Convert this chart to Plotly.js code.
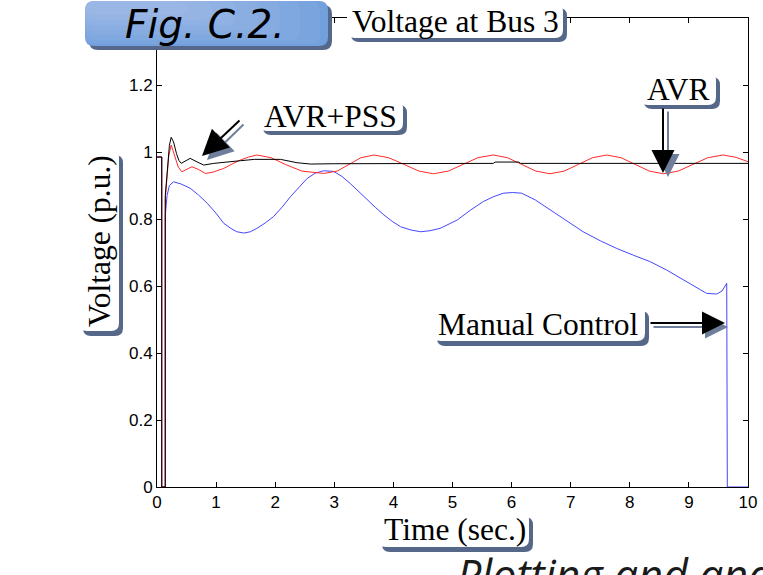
<!DOCTYPE html>
<html>
<head>
<meta charset="utf-8">
<script src="https://cdn.plot.ly/plotly-3.0.1.min.js"></script>
<style>html,body{margin:0;padding:0;background:#fff;}#chart{width:763px;height:575px;}</style>
</head>
<body>
<div id="chart"></div>
<script>
// ---- Data ----
const tAvrPss = [0,0.08,0.08,0.14,0.14,0.18,0.21,0.24,0.28,0.33,0.37,0.41,0.48,0.56,0.66,0.79,0.96,1.15,1.41,1.65,2.09,2.37,2.6,3.0,4,5,5.69,5.72,6.12,6.15,7,8,9,10];
const vAvrPss = [0.985,0.985,0,0,0.87,0.95,1.02,1.044,1.03,0.995,0.975,0.966,0.972,0.981,0.972,0.961,0.966,0.97,0.974,0.978,0.978,0.968,0.964,0.965,0.966,0.966,0.966,0.970,0.970,0.966,0.966,0.966,0.966,0.966];

const tAvr = [0,0.08,0.08,0.14,0.14,0.17,0.2,0.24,0.3,0.36,0.42,0.5,0.59,0.7,0.82,0.95,1.13,1.27,1.41,1.55,1.69,1.93,2.17,2.45,2.82,3.05,3.25,3.45,3.67,3.92,4.18,4.43,4.68,4.93,5.18,5.43,5.69,5.93,6.17,6.41,6.65,6.89,7.13,7.37,7.61,7.85,8.09,8.33,8.57,8.82,9.07,9.32,9.58,9.8,10];
const vAvr = [0.985,0.985,0,0,0.86,0.93,0.99,1.021,0.99,0.955,0.941,0.948,0.956,0.948,0.936,0.94,0.951,0.964,0.976,0.985,0.991,0.983,0.963,0.943,0.936,0.943,0.963,0.983,0.991,0.983,0.963,0.943,0.935,0.943,0.963,0.983,0.991,0.983,0.963,0.943,0.935,0.943,0.963,0.983,0.991,0.983,0.963,0.943,0.935,0.943,0.963,0.983,0.991,0.984,0.971];

const tManual = [0,0.08,0.08,0.14,0.14,0.17,0.21,0.28,0.4,0.56,0.7,0.85,1.0,1.13,1.25,1.35,1.47,1.58,1.69,1.83,1.97,2.12,2.26,2.4,2.54,2.68,2.82,2.99,3.13,3.27,3.41,3.55,3.7,3.84,3.98,4.12,4.3,4.46,4.62,4.79,4.96,5.08,5.3,5.52,5.7,5.86,6.02,6.17,6.4,6.65,6.93,7.21,7.5,7.78,8.06,8.34,8.62,8.91,9.1,9.3,9.47,9.56,9.64,9.65,10];
const vManual = [0.985,0.985,0,0,0.81,0.87,0.9,0.911,0.905,0.892,0.872,0.847,0.817,0.787,0.772,0.762,0.758,0.762,0.772,0.788,0.807,0.836,0.867,0.895,0.921,0.937,0.944,0.942,0.927,0.906,0.882,0.857,0.834,0.812,0.793,0.777,0.767,0.762,0.765,0.772,0.787,0.797,0.826,0.852,0.867,0.877,0.879,0.877,0.857,0.827,0.795,0.762,0.735,0.712,0.692,0.673,0.648,0.618,0.598,0.578,0.576,0.585,0.608,0,0];

const xTicks = [0,1,2,3,4,5,6,7,8,9,10];
const yTicks = [0,0.2,0.4,0.6,0.8,1,1.2];
const yTickText = ['0','0.2','0.4','0.6','0.8','1','1.2'];

const figLabel = 'Fig. C.2.';
const chartTitle = 'Voltage at Bus 3';
const xTitle = 'Time (sec.)';
const yTitle = 'Voltage (p.u.)';
const lblAvrPss = 'AVR+PSS';
const lblAvr = 'AVR';
const lblManual = 'Manual Control';
const footText = 'Plotting and analysis';

// ---- Geometry helpers (pixel -> paper) ----
const L = 157, T = 18, W = 591, H = 469;
const px = x => (x - L) / W;
const py = y => (T + H - y) / H;

function rrect(x0, y0, x1, y1, r) {
  const a = px(x0), b = px(x1), c = py(y0), d = py(y1);
  const rx = r / W, ry = r / H;
  return `M${a+rx},${c} L${b-rx},${c} Q${b},${c} ${b},${c-ry} L${b},${d+ry} Q${b},${d} ${b-rx},${d} ` +
         `L${a+rx},${d} Q${a},${d} ${a},${d+ry} L${a},${c-ry} Q${a},${c} ${a+rx},${c} Z`;
}
const SHADOW = '#56688a';
function box(x0, y0, x1, y1, r, fill, dx, dy) {
  return [
    {type:'path', xref:'paper', yref:'paper', layer:'above', path: rrect(x0+dx, y0+dy, x1+dx, y1+dy, r), fillcolor: SHADOW, line:{width:0}},
    {type:'path', xref:'paper', yref:'paper', layer:'above', path: rrect(x0, y0, x1, y1, r), fillcolor: fill, line:{width:0}}
  ];
}
function plain(x0, y0, x1, y1, r, fill, op) {
  return {type:'path', xref:'paper', yref:'paper', layer:'above', path: rrect(x0, y0, x1, y1, r), fillcolor: fill, opacity: op, line:{width:0}};
}
// soft light sheen on the figure-label box (nested, faint layers)
const sheen = [];
[[320,44],[300,40],[280,35],[258,30],[236,25],[212,20],[188,15]].forEach(function (e) {
  sheen.push(plain(85, 1, e[0], e[1], 9, '#c4d6f2', 0.09));
});

const shapes = [].concat(
  box(85, 1, 328, 46, 9, '#72a0dc', 4, 4),
  sheen,
  box(347, 4, 563, 38, 8, '#ffffff', 4, 4),
  box(259, 101, 403, 131, 8, '#ffffff', 4, 4),
  box(640, 73, 716, 105, 8, '#ffffff', 4, 4),
  box(433, 306, 645, 341, 8, '#ffffff', 4, 5),
  box(378, 512, 529, 547, 8, '#ffffff', 4, 5),
  box(79, 150, 119, 331, 8, '#ffffff', 4, 5)
);

const serif = 'Liberation Serif, Times New Roman, serif';
function label(text, cx, cy, extra) {
  return Object.assign({xref:'paper', yref:'paper', x:px(cx), y:py(cy), xanchor:'center', yanchor:'middle',
    text:text, showarrow:false, font:{family:serif, size:31.5, color:'#000'}}, extra || {});
}
function arrow(tipX, tipY, tailX, tailY, color, size) {
  return {xref:'paper', yref:'paper', x:px(tipX), y:py(tipY), ax: tailX - tipX, ay: tailY - tipY,
    axref:'pixel', ayref:'pixel', text:'', showarrow:true, arrowhead:2, arrowsize:size || 2.3, arrowwidth:2,
    arrowcolor:color, standoff:0, startstandoff:0};
}
const SHADOW_ARROW = '#6f7f9b';

const annotations = [
  {xref:'paper', yref:'paper', x:px(205), y:py(0), xanchor:'center', yanchor:'top', showarrow:false,
   text:'<i>' + figLabel + '</i>', font:{family:'DejaVu Sans, sans-serif', size:39, color:'#000'}},
  label(chartTitle, 455, 22),
  label(lblAvrPss, 330, 116),
  label(lblAvr, 678, 89),
  label(lblManual, 538, 324),
  label(xTitle, 455, 529),
  label(yTitle, 99, 241, {textangle:-90}),
  // shadow arrows first, then black arrows
  arrow(207, 160, 245, 123, SHADOW_ARROW, 2.6),
  arrow(202, 156, 241, 119, '#000', 2.6),
  arrow(668, 177, 668, 110, SHADOW_ARROW),
  arrow(663, 173, 663, 107, '#000'),
  arrow(728, 327, 652, 327, SHADOW_ARROW),
  arrow(725, 323, 649, 323, '#000'),
  {xref:'paper', yref:'paper', x:px(455), y:py(543), xanchor:'left', yanchor:'top', showarrow:false,
   text:'<i>' + footText + '</i>', font:{family:'Open Sans, sans-serif', size:43, color:'#1a1a1a'}}
];

const traces = [
  {x:tManual, y:vManual, type:'scatter', mode:'lines', name:'Manual Control', line:{color:'#4646ff', width:1}},
  {x:tAvr, y:vAvr, type:'scatter', mode:'lines', name:'AVR', line:{color:'#ff2a2a', width:1}},
  {x:tAvrPss, y:vAvrPss, type:'scatter', mode:'lines', name:'AVR+PSS', line:{color:'#000000', width:1}}
];

const axisCommon = {showgrid:false, zeroline:false, showline:true, linecolor:'#000', linewidth:1,
  ticks:'inside', ticklen:5, tickcolor:'#000', mirror:'ticks',
  tickfont:{family:'Liberation Sans, Arial, sans-serif', size:17, color:'#000'}};

const layout = {
  width:763, height:575,
  margin:{l:L, r:763-L-W, t:T, b:575-T-H, pad:0},
  paper_bgcolor:'#fff', plot_bgcolor:'#fff',
  showlegend:false,
  xaxis:Object.assign({}, axisCommon, {range:[0,10], tickvals:xTicks, ticktext:xTicks.map(String)}),
  yaxis:Object.assign({}, axisCommon, {range:[0,1.4], tickvals:yTicks, ticktext:yTickText}),
  shapes:shapes,
  annotations:annotations
};

Plotly.newPlot('chart', traces, layout, {staticPlot:true, displayModeBar:false});
</script>
</body>
</html>
